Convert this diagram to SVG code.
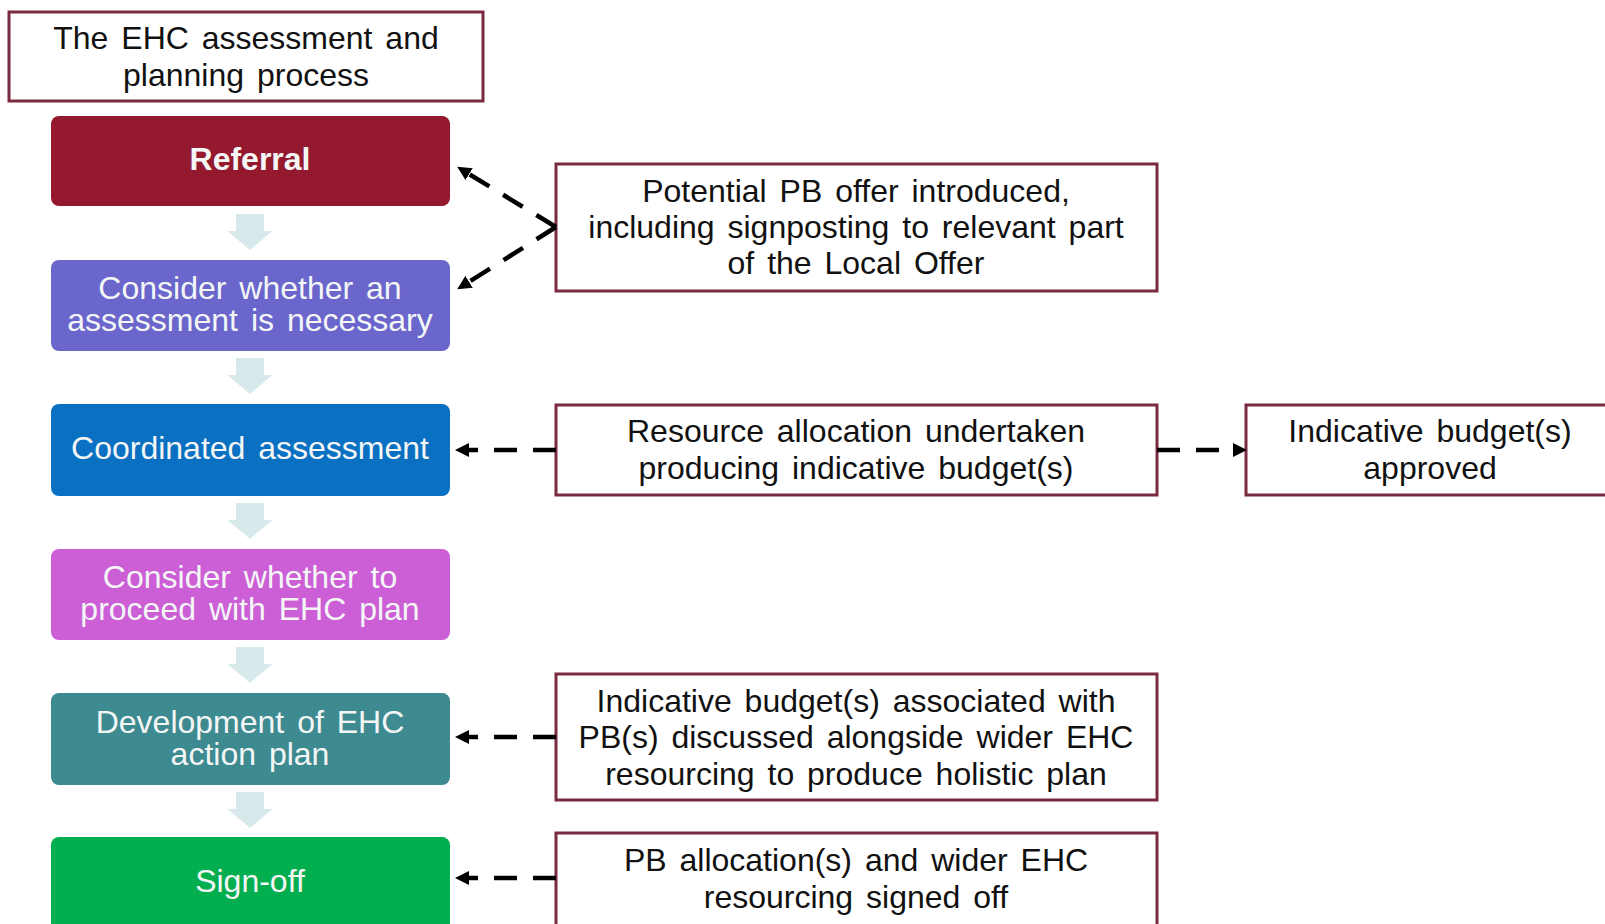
<svg xmlns="http://www.w3.org/2000/svg" width="1605" height="924" viewBox="0 0 1605 924">
<style>
text{font-family:"Liberation Sans",Arial,sans-serif;font-size:32px;text-anchor:middle;word-spacing:4px}
.dk{fill:#111}
.wt{fill:#f4f6f6}
.ob{fill:#fff;stroke:#7b2a3f;stroke-width:3}
.dn{fill:#d8e9eb}
.cn{fill:none;stroke:#000;stroke-width:4.5;stroke-dasharray:23 16}
</style>
<defs>
<marker id="ah" viewBox="0 0 14 14" markerWidth="14" markerHeight="14" refX="6" refY="7" orient="auto" markerUnits="userSpaceOnUse">
<path d="M0,0 L14,7 L0,14 z" fill="#000"/>
</marker>
<path id="darrow" d="M-14,0 H14 V17 H22.5 L0,36 L-22.5,17 H-14 Z"/>
</defs>
<rect width="1605" height="924" fill="#fff"/>

<g id="title">
<rect class="ob" x="9" y="12" width="474" height="89"/>
<text class="dk" x="246" y="49">The EHC assessment and<tspan x="246" dy="37">planning process</tspan></text>
</g>

<g id="down-arrows" class="dn">
<use href="#darrow" x="250" y="214"/>
<use href="#darrow" x="250" y="358"/>
<use href="#darrow" x="250" y="503"/>
<use href="#darrow" x="250" y="647"/>
<use href="#darrow" x="250" y="792"/>
</g>

<g id="referral">
<rect x="51" y="116" width="399" height="90" rx="8" fill="#94192e"/>
<text class="wt" x="250" y="170" font-weight="bold">Referral</text>
</g>
<g id="consider-assessment">
<rect x="51" y="260" width="399" height="91" rx="8" fill="#6a66cc"/>
<text class="wt" x="250" y="299">Consider whether an<tspan x="250" dy="32">assessment is necessary</tspan></text>
</g>
<g id="coordinated">
<rect x="51" y="404" width="399" height="92" rx="8" fill="#0a70c2"/>
<text class="wt" x="250" y="459">Coordinated assessment</text>
</g>
<g id="consider-proceed">
<rect x="51" y="549" width="399" height="91" rx="8" fill="#cc5fd6"/>
<text class="wt" x="250" y="588">Consider whether to<tspan x="250" dy="32">proceed with EHC plan</tspan></text>
</g>
<g id="development">
<rect x="51" y="693" width="399" height="92" rx="8" fill="#3e8a91"/>
<text class="wt" x="250" y="733">Development of EHC<tspan x="250" dy="32">action plan</tspan></text>
</g>
<g id="signoff">
<rect x="51" y="837" width="399" height="100" rx="8" fill="#03ae4f"/>
<text class="wt" x="250" y="892">Sign-off</text>
</g>

<g id="pb-offer">
<rect class="ob" x="556" y="164" width="601" height="127"/>
<text class="dk" x="856" y="202">Potential PB offer introduced,<tspan x="856" dy="36">including signposting to relevant part</tspan><tspan x="856" dy="36">of the Local Offer</tspan></text>
</g>
<g id="resource-allocation">
<rect class="ob" x="556" y="405" width="601" height="90"/>
<text class="dk" x="856" y="442">Resource allocation undertaken<tspan x="856" dy="37">producing indicative budget(s)</tspan></text>
</g>
<g id="budget-approved">
<rect class="ob" x="1246" y="405" width="380" height="90"/>
<text class="dk" x="1430" y="442">Indicative budget(s)<tspan x="1430" dy="37">approved</tspan></text>
</g>
<g id="budget-associated">
<rect class="ob" x="556" y="674" width="601" height="126"/>
<text class="dk" x="856" y="712">Indicative budget(s) associated with<tspan x="856" dy="36">PB(s) discussed alongside wider EHC</tspan><tspan x="856" dy="37">resourcing to produce holistic plan</tspan></text>
</g>
<g id="pb-signed">
<rect class="ob" x="556" y="833" width="601" height="110"/>
<text class="dk" x="856" y="871">PB allocation(s) and wider EHC<tspan x="856" dy="37">resourcing signed off</tspan></text>
</g>

<g id="connectors">
<path class="cn" d="M556,227 L464,171" marker-end="url(#ah)"/>
<path class="cn" d="M556,227 L464,285" marker-end="url(#ah)"/>
<path class="cn" d="M556,450 L463,450" marker-end="url(#ah)"/>
<path class="cn" d="M1157,450 L1239,450" marker-end="url(#ah)"/>
<path class="cn" d="M556,737 L463,737" marker-end="url(#ah)"/>
<path class="cn" d="M556,878 L463,878" marker-end="url(#ah)"/>
</g>
</svg>
